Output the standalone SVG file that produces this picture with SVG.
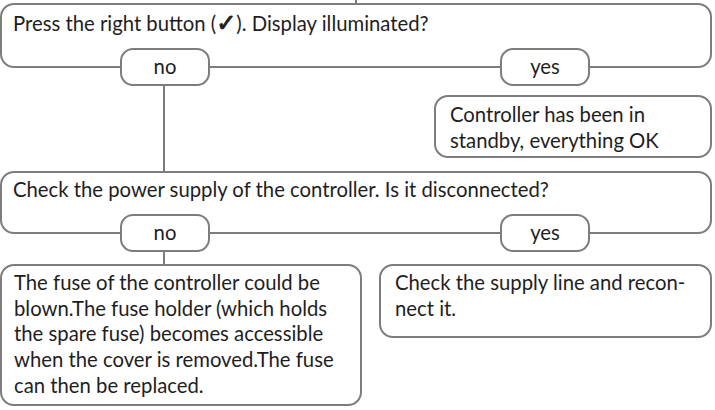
<svg xmlns="http://www.w3.org/2000/svg" width="715" height="410" viewBox="0 0 715 410">
<style>
.box{fill:#fff;stroke:#7d7d7d;stroke-width:2}
.ln{stroke:#7d7d7d;stroke-width:2;fill:none}
text{font-family:"Lato","Open Sans",sans-serif;font-size:20.3px;fill:#1e1e1e}
.c{text-anchor:middle}
.ck{font-family:"DejaVu Sans",sans-serif;font-size:24px;stroke:#1e1e1e;stroke-width:0.9}
</style>
<rect width="715" height="410" fill="#fff"/>
<g id="connectors">
<line class="ln" x1="356" y1="0" x2="356" y2="4"/>
<line class="ln" x1="164" y1="85" x2="164" y2="172"/>
<line class="ln" x1="164" y1="251" x2="164" y2="265"/>
</g>
<g id="q1">
<rect class="box" x="1" y="4" width="710" height="63" rx="13"/>
<text x="13" y="31">Press the right button (<tspan class="ck">✓</tspan>). Display illuminated?</text>
</g>
<g id="q1-no">
<rect class="box" x="121" y="49" width="88" height="36" rx="12"/>
<text class="c" x="165" y="74">no</text>
</g>
<g id="q1-yes">
<rect class="box" x="501" y="49" width="88" height="36" rx="12"/>
<text class="c" x="545" y="74">yes</text>
</g>
<g id="standby">
<rect class="box" x="435" y="96" width="276" height="61" rx="13"/>
<text x="450" y="122">Controller has been in</text>
<text x="450" y="148">standby, everything OK</text>
</g>
<g id="q2">
<rect class="box" x="1" y="172" width="710" height="61" rx="13"/>
<text x="13" y="197">Check the power supply of the controller. Is it disconnected?</text>
</g>
<g id="q2-no">
<rect class="box" x="121" y="215" width="88" height="36" rx="12"/>
<text class="c" x="165" y="240">no</text>
</g>
<g id="q2-yes">
<rect class="box" x="501" y="215" width="88" height="36" rx="12"/>
<text class="c" x="545" y="240">yes</text>
</g>
<g id="fuse">
<rect class="box" x="1" y="265" width="360" height="140" rx="13"/>
<text x="14" y="290">The fuse of the controller could be</text>
<text x="14" y="316">blown.The fuse holder (which holds</text>
<text x="14" y="341">the spare fuse) becomes accessible</text>
<text x="14" y="367">when the cover is removed.The fuse</text>
<text x="14" y="393">can then be replaced.</text>
</g>
<g id="supply">
<rect class="box" x="380" y="265" width="331" height="72" rx="13"/>
<text x="395" y="290">Check the supply line and recon-</text>
<text x="395" y="316">nect it.</text>
</g>
</svg>
